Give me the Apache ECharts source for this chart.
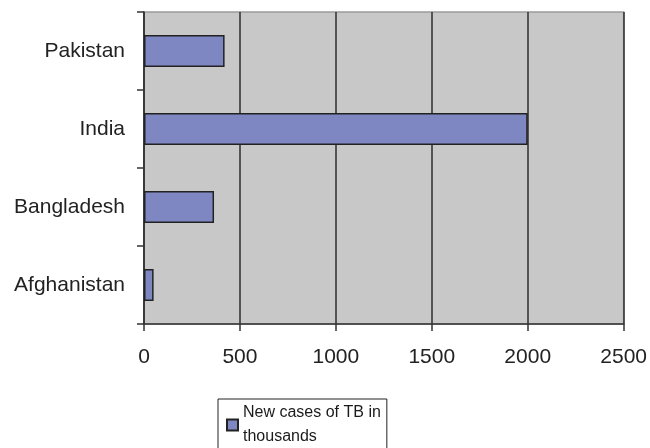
<!DOCTYPE html>
<html><head><meta charset="utf-8">
<script src="https://cdn.jsdelivr.net/npm/echarts@6/dist/echarts.min.js"></script>
<style>html,body{margin:0;padding:0;background:#fff}#c{width:650px;height:448px}</style>
</head><body><div id="c"></div>
<script>
const categories = ['Afghanistan', 'Bangladesh', 'India', 'Pakistan'];
const seriesName = 'New cases of TB in\nthousands';
const values = [50, 365, 2000, 420];
const xTicks = [0, 500, 1000, 1500, 2000, 2500];

const chart = echarts.init(document.getElementById('c'), null, {renderer: 'canvas'});
chart.setOption({
  animation: false,
  textStyle: {fontFamily: 'Liberation Sans, Arial, sans-serif'},
  grid: {left: 144, right: 24, top: 12, bottom: 124, show: true,
    backgroundColor: '#c8c8c8', borderColor: '#9a9a9a', borderWidth: 1.5},
  xAxis: {
    type: 'value', min: xTicks[0], max: xTicks[xTicks.length - 1], interval: 500,
    axisLine: {show: true, lineStyle: {color: '#333', width: 1.5}},
    axisTick: {show: true, length: 7, lineStyle: {color: '#333', width: 1.5}},
    splitLine: {show: true, lineStyle: {color: '#2e2e2e', width: 1.5}},
    axisLabel: {color: '#222', fontSize: 21, margin: 23, fontFamily: 'Liberation Sans',
      formatter: v => String(v)}
  },
  yAxis: {
    type: 'category', data: categories,
    axisLine: {show: true, lineStyle: {color: '#333', width: 1.5}},
    axisTick: {show: true, length: 7, lineStyle: {color: '#333', width: 1.5}},
    splitLine: {show: false},
    axisLabel: {color: '#222', fontSize: 21, margin: 19, fontFamily: 'Liberation Sans'}
  },
  legend: {
    left: 218, top: 399,
    data: [seriesName],
    itemWidth: 11, itemHeight: 11,
    icon: 'rect',
    borderColor: '#222', borderWidth: 1,
    padding: [2, 6, 20, 8],
    textStyle: {color: '#1a1a1a', fontSize: 16, lineHeight: 24, fontFamily: 'Liberation Sans'}
  },
  series: [{
    type: 'bar', name: seriesName, data: values, barWidth: 32,
    itemStyle: {color: '#7f87c2', borderColor: '#222', borderWidth: 1.5}
  }]
});
</script></body></html>
